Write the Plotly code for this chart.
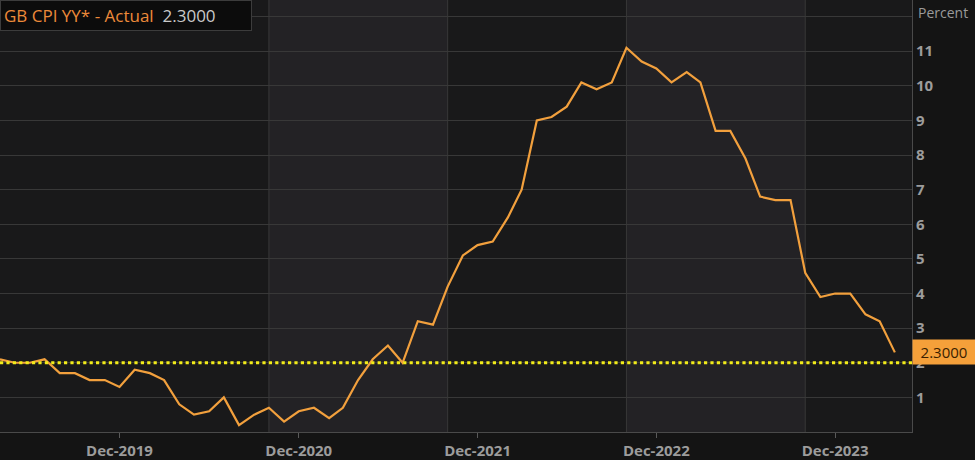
import plotly.graph_objects as go
import pandas as pd

# UK CPI y/y, monthly, Apr-2019 .. Apr-2024
months = pd.date_range("2019-04-01", "2024-04-01", freq="MS")
cpi_yy = [
    2.1, 2.0, 2.0, 2.1, 1.7, 1.7, 1.5, 1.5, 1.3,          # 2019 Apr-Dec
    1.8, 1.7, 1.5, 0.8, 0.5, 0.6, 1.0, 0.2, 0.5, 0.7, 0.3, 0.6,  # 2020
    0.7, 0.4, 0.7, 1.5, 2.1, 2.5, 2.0, 3.2, 3.1, 4.2, 5.1, 5.4,  # 2021
    5.5, 6.2, 7.0, 9.0, 9.1, 9.4, 10.1, 9.9, 10.1, 11.1, 10.7, 10.5,  # 2022
    10.1, 10.4, 10.1, 8.7, 8.7, 7.9, 6.8, 6.7, 6.7, 4.6, 3.9, 4.0,  # 2023
    4.0, 3.4, 3.2, 2.3,                                   # 2024 Jan-Apr
]
target = 2.0
last_value = cpi_yy[-1]

x_tick_dates = ["2019-12-01", "2020-12-01", "2021-12-01", "2022-12-01", "2023-12-01"]
x_tick_text = ["Dec-2019", "Dec-2020", "Dec-2021", "Dec-2022", "Dec-2023"]
y_ticks = list(range(1, 13))
y_tick_text = [str(v) for v in range(1, 12)] + [""]

x_start, x_end = "2019-04-01", "2024-05-06"
# vertical grid / shaded yearly bands
band_edges = ["2020-10-01", "2021-10-01", "2022-10-01", "2023-10-01"]

LINE = "#f2a03d"
GRID = "#383838"
LABEL_FONT = dict(size=15, color="#9c9c9c", family="Open Sans, sans-serif", weight="bold")

fig = go.Figure()

fig.add_trace(go.Scatter(
    x=months, y=cpi_yy, mode="lines", name="GB CPI YY* - Actual",
    line=dict(color=LINE, width=2.2), hoverinfo="x+y",
))

fig.add_trace(go.Scatter(
    x=[x_start, x_end], y=[target, target], mode="lines", name="Target",
    line=dict(color="#f2ec1a", width=3.2, dash="dot"), hoverinfo="skip",
))

shapes = []
# lighter bands
for a, b in [(band_edges[0], band_edges[1]), (band_edges[2], band_edges[3])]:
    shapes.append(dict(type="rect", xref="x", yref="paper", x0=a, x1=b, y0=0, y1=1,
                       fillcolor="#232225", line=dict(width=0), layer="below"))
for e in band_edges:
    shapes.append(dict(type="line", xref="x", yref="paper", x0=e, x1=e, y0=0, y1=1,
                       line=dict(color=GRID, width=1), layer="below"))

fig.update_layout(
    width=975, height=460,
    margin=dict(l=0, r=63, t=0, b=28, autoexpand=False),
    paper_bgcolor="#141414",
    plot_bgcolor="#19191a",
    showlegend=False,
    shapes=shapes,
    font=dict(family="Open Sans, DejaVu Sans, sans-serif", color="#9a9a9a"),
    xaxis=dict(
        type="date", range=[x_start, x_end],
        tickvals=x_tick_dates, ticktext=x_tick_text,
        showgrid=False, zeroline=False,
        ticks="outside", ticklen=5, tickcolor="#5a5a5a",
        tickfont=LABEL_FONT,
        showline=True, linecolor="#4a4a4a", linewidth=1, mirror=True,
    ),
    yaxis=dict(
        side="right", range=[0, 12.48],
        tickvals=y_ticks, ticktext=y_tick_text,
        showgrid=True, gridcolor=GRID, gridwidth=1, zeroline=False,
        ticks="", tickfont=LABEL_FONT,
        showline=True, linecolor="#4a4a4a", linewidth=1,
    ),
    annotations=[
        dict(xref="paper", yref="paper", x=0, y=1, xanchor="left", yanchor="top",
             text="<span style='color:#ec8a3a'>GB CPI YY* - Actual</span>  "
                  "<span style='color:#c9c9c9'>%.4f</span>" % last_value,
             showarrow=False, font=dict(size=17, family="Open Sans, sans-serif"),
             bgcolor="#0c0c0c", bordercolor="#3c3c3c", borderwidth=1,
             borderpad=3, width=244, align="left"),
        dict(xref="paper", yref="paper", x=1, y=1, xanchor="left", yanchor="top",
             xshift=4, yshift=-1, text="Percent", showarrow=False,
             font=dict(size=14, color="#9a9a9a")),
        dict(xref="paper", yref="y", x=1, y=last_value, xanchor="left", yanchor="middle",
             xshift=0, text="%.4f" % last_value, showarrow=False,
             font=dict(size=15, color="#3a1e00"), bgcolor="#f5a03a", borderpad=2,
             width=58),
    ],
)

fig.write_html("out.html", config={"displayModeBar": False},
               post_script="document.body.style.margin='0';"
                           "document.body.style.overflow='hidden';")
